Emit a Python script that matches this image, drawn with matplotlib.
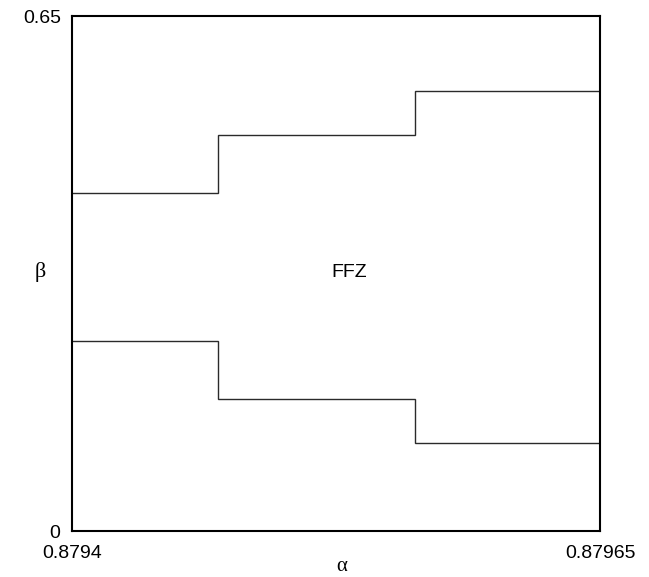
import matplotlib
matplotlib.use("Agg")
import matplotlib.pyplot as plt

plt.rcParams['font.family'] = ['Liberation Sans', 'DejaVu Sans']

# step boundaries of the FFZ region
alpha_edges = [0.8794, 0.879469, 0.8795624, 0.87965]
beta_upper = [0.4266, 0.4998, 0.5557]
beta_lower = [0.2398, 0.1662, 0.1111]

x_ticks = [0.8794, 0.87965]
x_tick_labels = ['0.8794', '0.87965']
y_ticks = [0, 0.65]
y_tick_labels = ['0', '0.65']

fig = plt.figure(figsize=(6.49, 5.77), dpi=100)
ax = fig.add_axes([0.1109, 0.0797, 0.8136, 0.8926])

for vals in (beta_upper, beta_lower):
    ax.stairs(vals, alpha_edges, color='#2a2a2a', lw=1.0, baseline=None)

ax.set_xlim(x_ticks[0], x_ticks[1])
ax.set_ylim(y_ticks[0], y_ticks[1])
ax.set_xticks([])
ax.set_yticks([])
for s in ax.spines.values():
    s.set_linewidth(1.5)

ax.text(0.8795314, 0.3206, 'FFZ', fontsize=14, ha='center', va='baseline')

# tick labels placed like the original
ax.text(-0.0227, -0.0136, y_tick_labels[0], transform=ax.transAxes, fontsize=14, ha='right', va='baseline')
ax.text(-0.0208, 0.9864, y_tick_labels[1], transform=ax.transAxes, fontsize=14, ha='right', va='baseline')
ax.text(0.0, -0.0524, x_tick_labels[0], transform=ax.transAxes, fontsize=14, ha='center', va='baseline')
ax.text(1.0, -0.0524, x_tick_labels[1], transform=ax.transAxes, fontsize=14, ha='center', va='baseline')

ax.text(0.511, -0.0777, 'α', transform=ax.transAxes, fontsize=15,
        family=['Liberation Serif', 'DejaVu Serif'], ha='center', va='baseline')
ax.text(-0.0606, 0.4932, 'β', transform=ax.transAxes, fontsize=16,
        family=['Liberation Serif', 'DejaVu Serif'], ha='center', va='baseline')

fig.savefig('out.png', dpi=100)
